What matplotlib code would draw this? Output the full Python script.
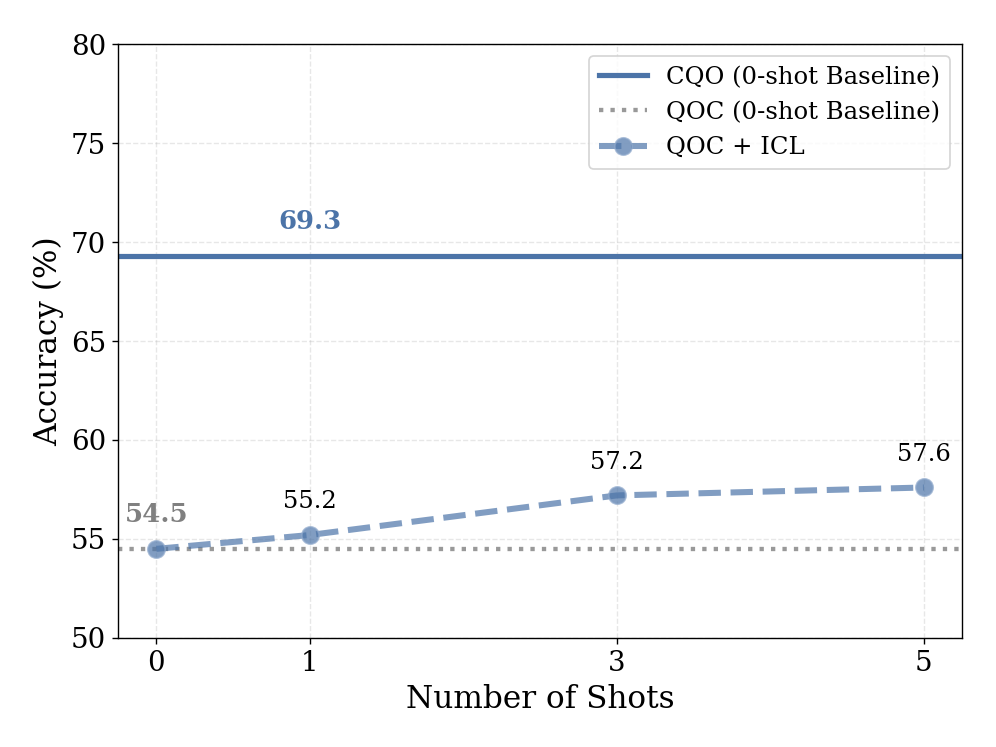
"""Accuracy vs number of in-context shots."""
import matplotlib

matplotlib.use("Agg")
import matplotlib.pyplot as plt

shots = [0, 1, 3, 5]
qoc_icl = [54.5, 55.2, 57.2, 57.6]
cqo_baseline = 69.3
qoc_baseline = 54.5

plt.rcParams["font.family"] = "DejaVu Serif"

blue = "#4C74A8"

fig, ax = plt.subplots(figsize=(8, 6), dpi=124.5)
fig.subplots_adjust(left=0.1185, right=0.966, top=0.941, bottom=0.146)

ax.axhline(cqo_baseline, color=blue, linewidth=3, label="CQO (0-shot Baseline)")
ax.axhline(qoc_baseline, color="gray", linestyle=":", linewidth=2.5, alpha=0.8,
           label="QOC (0-shot Baseline)")
ax.plot(shots, qoc_icl, color=blue, linestyle="--", linewidth=3.5, alpha=0.7,
        marker="o", markersize=10, markeredgecolor="#8FA9CC",
        markeredgewidth=1.0, label="QOC + ICL")

# value labels
ax.text(1, cqo_baseline + 1.1, f"{cqo_baseline}", color=blue, fontsize=15,
        fontweight="bold", ha="center", va="bottom")
ax.text(0, qoc_icl[0] + 1.1, f"{qoc_icl[0]}", color="gray", fontsize=15,
        fontweight="bold", ha="center", va="bottom")
for x, y in zip(shots[1:], qoc_icl[1:]):
    ax.text(x, y + 1.1, f"{y}", fontsize=14, ha="center", va="bottom")

ax.set_xlim(-0.25, 5.25)
ax.set_ylim(50, 80)
ax.set_xticks(shots)
ax.tick_params(labelsize=16)
ax.set_xlabel("Number of Shots", fontsize=18)
ax.set_ylabel("Accuracy (%)", fontsize=18)
ax.grid(True, linestyle="--", alpha=0.3)
ax.legend(loc="upper right", fontsize=14)

fig.savefig("out.png", dpi=124.5)
plt.close(fig)
